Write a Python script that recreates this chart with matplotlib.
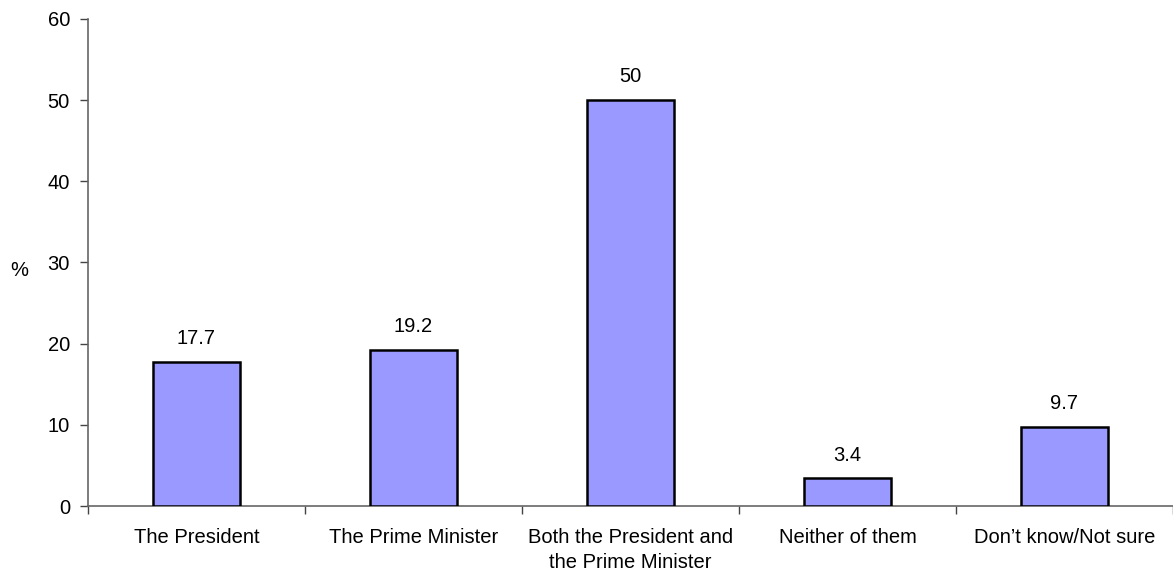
import numpy as np
import matplotlib.pyplot as plt

plt.rcParams['font.family'] = ['Liberation Sans', 'DejaVu Sans']

categories = ["The President", "The Prime Minister", "Both the President and\nthe Prime Minister",
              "Neither of them", "Don\u2019t know/Not sure"]
values = [17.7, 19.2, 50, 3.4, 9.7]
value_labels = ["17.7", "19.2", "50", "3.4", "9.7"]
y_ticks = [0, 10, 20, 30, 40, 50, 60]

FS = 14.5

fig = plt.figure(figsize=(11.73, 5.75), dpi=100)
ax = fig.add_axes([0.075, 0.12, 0.925, 0.847])

x = np.arange(len(categories))
ax.bar(x, values, width=0.405, color="#9999FF", edgecolor="black", linewidth=1.8, zorder=3)

for xi, v, lab in zip(x, values, value_labels):
    ax.annotate(lab, (xi, v), xytext=(0, 10), textcoords="offset points",
                ha="center", va="bottom", fontsize=FS)

ax.set_xlim(-0.5, len(categories) - 0.5)
ax.set_ylim(0, 60)
ax.set_yticks(y_ticks)
ax.set_xticks(np.arange(-0.5, len(categories), 1.0))
ax.set_xticklabels([])
ax.set_xticks(x, minor=True)
ax.set_xticklabels(categories, minor=True, fontsize=FS, linespacing=1.4)
ax.tick_params(axis="x", which="minor", length=0, pad=16)
ax.tick_params(axis="x", which="major", length=6, width=1, color="#444444")
ax.tick_params(axis="y", length=6, width=1, color="#444444", labelsize=FS, pad=7)

for side in ["top", "right"]:
    ax.spines[side].set_visible(False)
for side in ["left", "bottom"]:
    ax.spines[side].set_color("#666666")
    ax.spines[side].set_linewidth(1.2)

fig.text(0.016, 0.53, "%", fontsize=FS, ha="center", va="center")

fig.savefig("out.png", dpi=100)
